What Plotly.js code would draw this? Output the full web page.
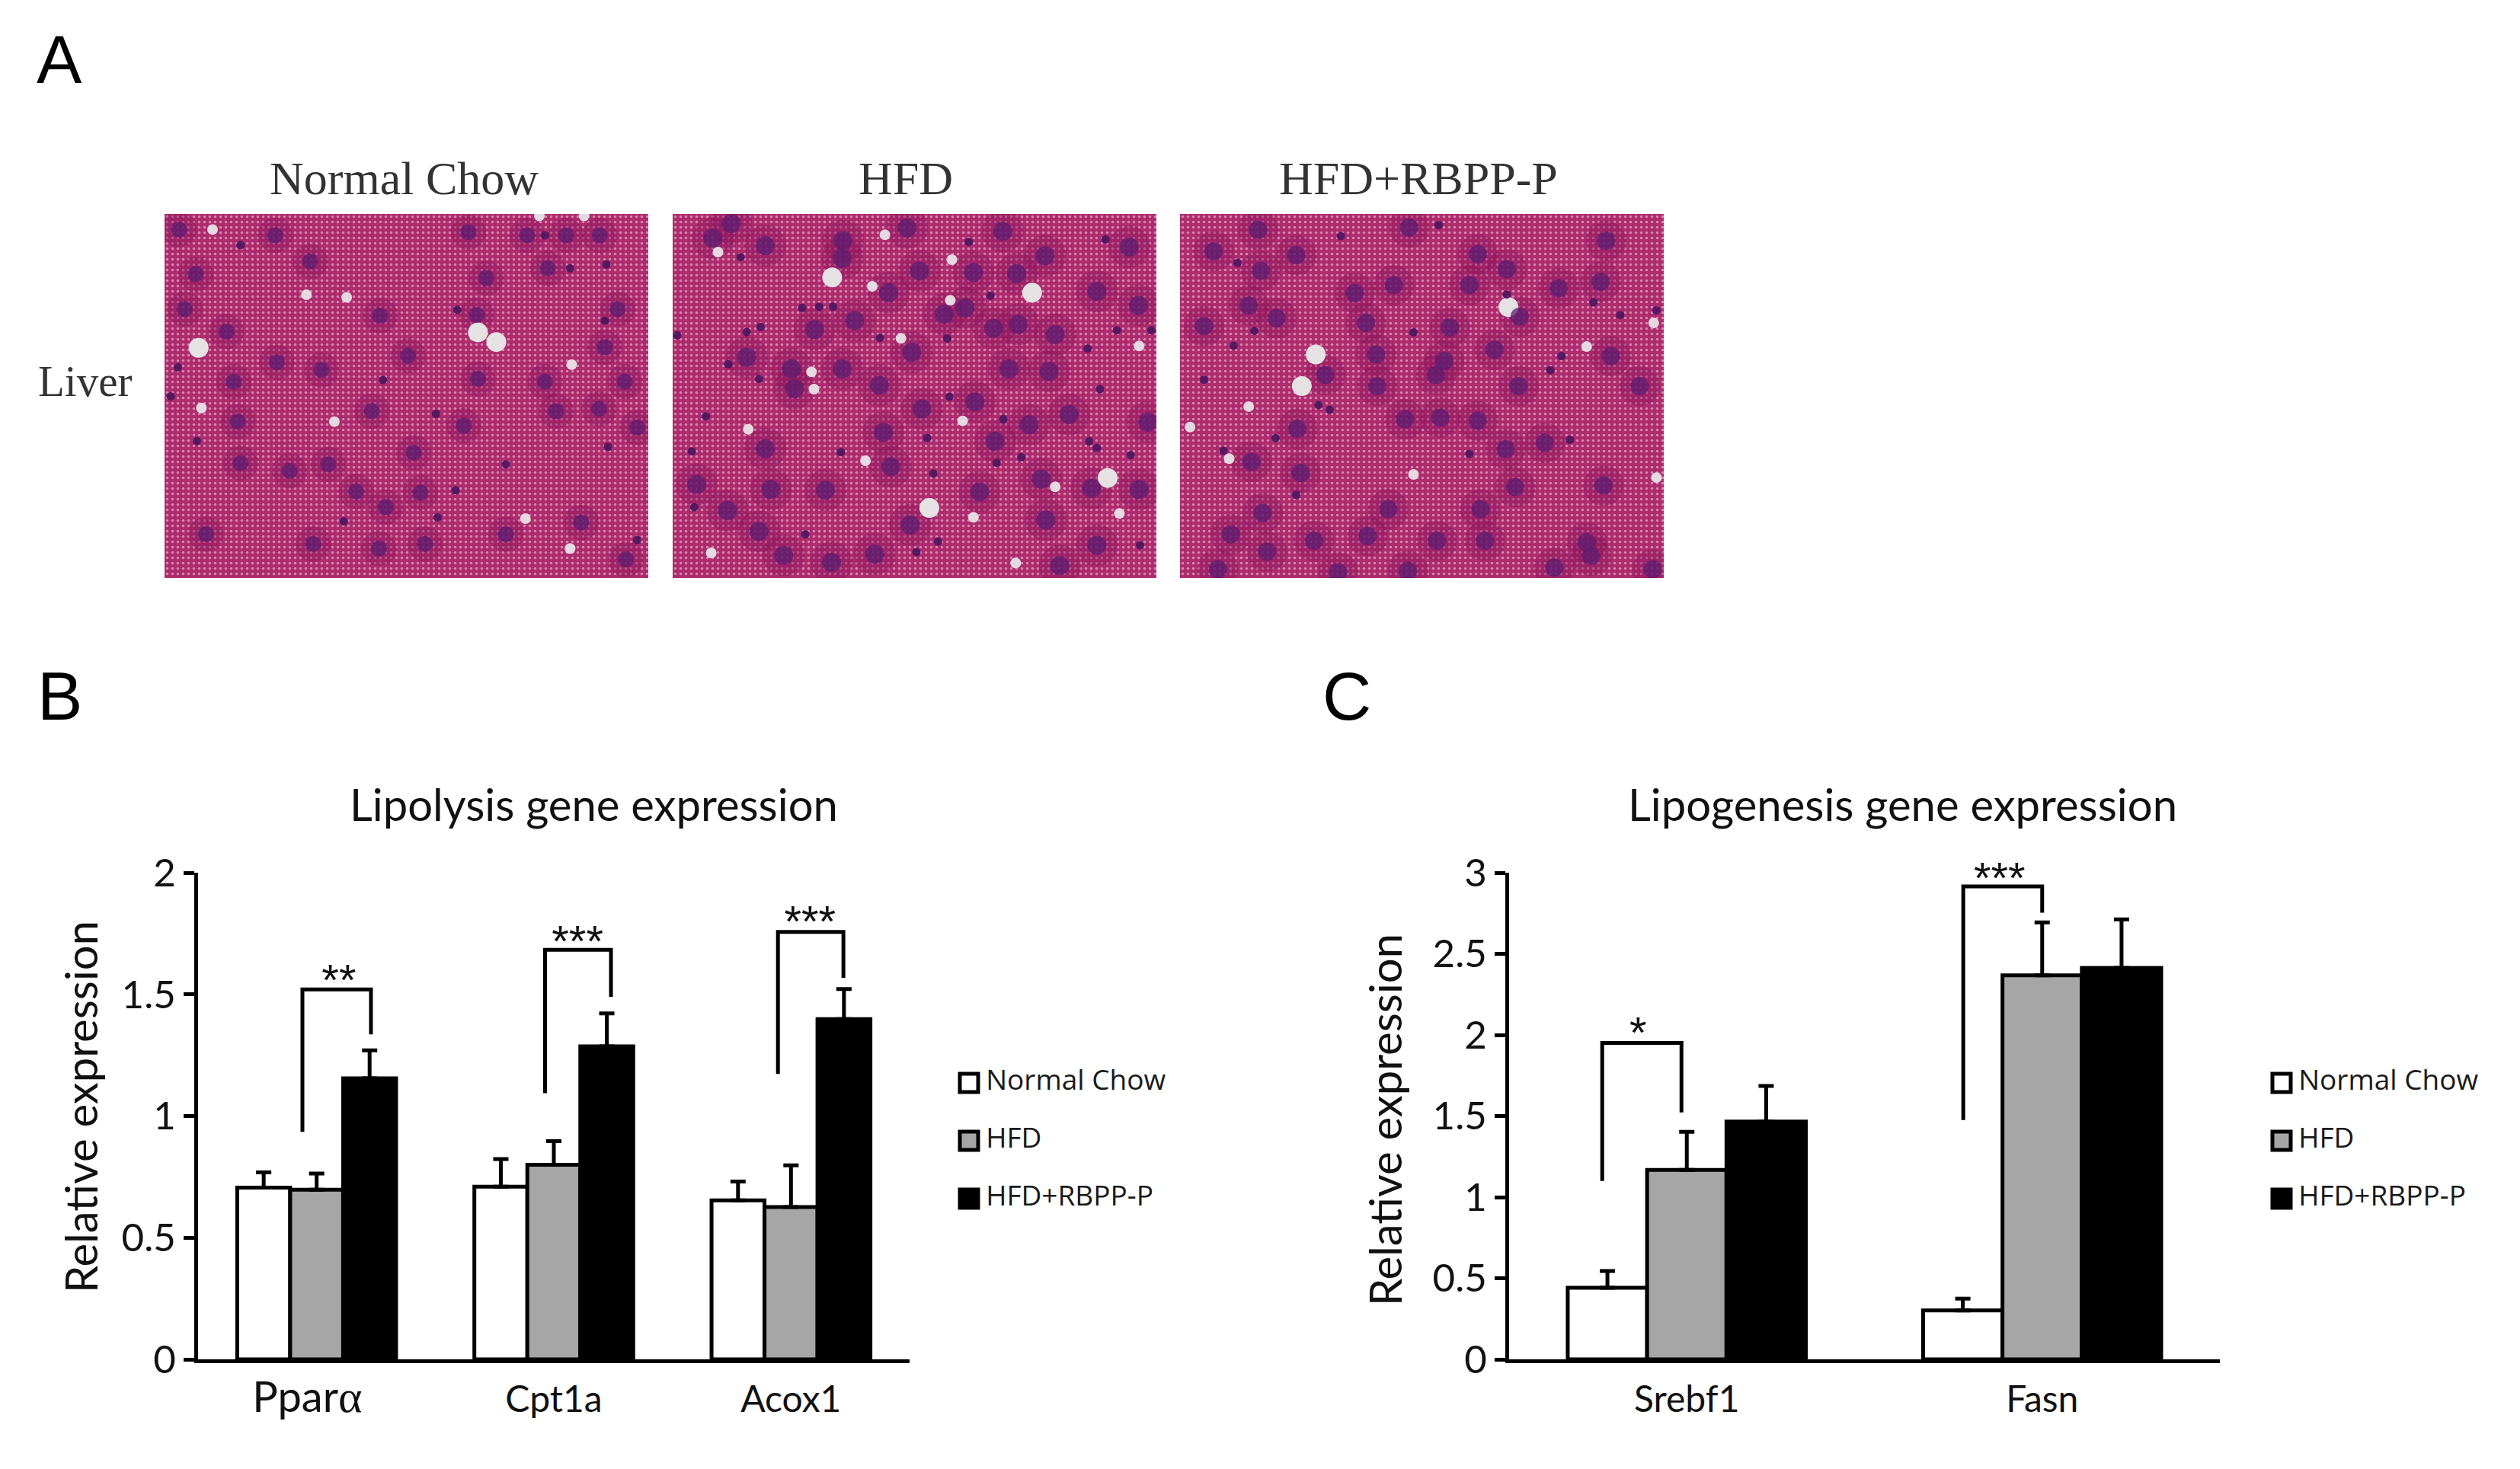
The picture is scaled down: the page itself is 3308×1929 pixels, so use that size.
<!DOCTYPE html>
<html>
<head>
<meta charset="utf-8">
<script src="https://cdn.plot.ly/plotly-3.0.1.min.js"></script>
<style>html, body { margin: 0; padding: 0; background: white; }</style>
</head>
<body>
<div id="chart"></div>
<script>
var groups = ["Normal Chow", "HFD", "HFD+RBPP-P"];
var groupFill = ["#ffffff", "#a6a6a6", "#000000"];

// panel B
var lipolysisGenes = ['<span style="font-size:56px">Ppar</span><span style="font-family:Liberation Serif;font-size:60px">α</span>\u00a0\u00a0', "Cpt1a", "Acox1"];
var lipolysisNormal = [0.706, 0.71, 0.653];
var lipolysisHFD = [0.697, 0.80, 0.626];
var lipolysisRBPP = [1.155, 1.286, 1.398];
var lipolysisNormalErr = [0.062, 0.113, 0.078];
var lipolysisHFDErr = [0.067, 0.097, 0.171];
var lipolysisRBPPErr = [0.115, 0.136, 0.124];
var lipolysisBracketX = [-0.06, -0.06, 0.229, 0.229, null, 0.963, 0.963, 1.241, 1.241, null, 1.945, 1.945, 2.221, 2.221];
var lipolysisBracketY = [0.935, 1.52, 1.52, 1.336, null, 1.094, 1.683, 1.683, 1.49, null, 1.173, 1.757, 1.757, 1.568];
var lipolysisStarX = [0.094, 1.10, 2.08];
var lipolysisStarY = [1.543, 1.702, 1.782];
var lipolysisStars = ["**", "***", "***"];

// panel C
var lipogenesisGenes = ["Srebf1", "Fasn"];
var lipogenesisNormal = [0.441, 0.302];
var lipogenesisHFD = [1.168, 2.367];
var lipogenesisRBPP = [1.466, 2.413];
var lipogenesisNormalErr = [0.104, 0.072];
var lipogenesisHFDErr = [0.235, 0.327];
var lipogenesisRBPPErr = [0.219, 0.30];
var lipogenesisBracketX = [-0.238, -0.238, -0.015, -0.015, null, 0.778, 0.778, 1.0, 1.0];
var lipogenesisBracketY = [1.10, 1.951, 1.951, 1.522, null, 1.475, 2.916, 2.916, 2.753];
var lipogenesisStarX = [-0.137, 0.88];
var lipogenesisStarY = [1.99, 2.94];
var lipogenesisStars = ["*", "***"];

// panel A, features
var chowNucleiX = [320,492,838,943,1013,1073,555,350,870,980,330,680,853,1105,405,495,575,730,418,855,975,1118,665,995,1072,425,830,1140,430,518,587,740,637,752,690,905,560,678,760,1120,368,1040,1082];
var chowNucleiY = [590,605,597,605,605,605,672,705,715,690,795,812,810,795,853,932,952,915,982,975,982,982,1058,1058,1052,1085,1095,1100,1192,1212,1195,1165,1265,1268,1305,1375,1400,1412,1400,1440,1375,1345,893];
var chowDotsX = [430,975,1020,1085,818,1082,685,305,780,352,905,815,783,1140,318,615,1088];
var chowDotsY = [630,605,690,680,797,825,978,1020,1065,1135,1195,1262,1332,1390,945,1342,1150];
var chowHolesX = [360,548,620,1023,965,1045,380,1020,598,940];
var chowHolesY = [1050,758,765,938,555,555,590,1412,1085,1335];
var chowBigHolesX = [355,855,888];
var chowBigHolesY = [895,855,880];

var hfdNucleiX = [190,130,300,552,550,760,1070,1480,1207,975,1115,800,700,1375,1510,948,880,460,1040,1120,1240,590,775,550,385,395,670,1090,1220,980,808,1285,1155,1540,683,1045,300,707,1195,78,318,495,995,1358,1512,178,1210,770,280,360,515,655,1255,1375,240];
var hfdNucleiY = [38,95,125,105,175,55,68,130,165,230,235,225,310,305,360,370,395,455,450,435,475,420,545,610,610,688,675,610,620,740,768,790,830,820,860,895,925,995,1045,1065,1085,1088,1095,1080,1085,1168,1205,1225,1250,1345,1372,1340,1385,1305,565];
var hfdDotsX = [960,1403,220,240,285,420,475,520,672,15,180,280,108,897,1385,825,62,545,1072,1130,1050,1350,1375,1485,845,70,430,790,860,1515,1345,890,1440,1552,1030];
var hfdDotsY = [110,100,170,465,445,370,365,365,488,478,592,650,797,720,690,882,935,938,808,958,980,895,922,950,1022,1155,1262,1332,1290,1305,530,490,458,458,322];
var hfdHolesX = [147,647,740,450,458,1512,245,625,975,1448,688,905,900,940,125,1112,1240];
var hfdHolesY = [150,285,490,622,690,520,848,972,1195,1180,82,180,340,815,1335,1375,1075];
var hfdBigHolesX = [517,1165,1410,832];
var hfdBigHolesY = [250,310,1040,1158];

var rbppNucleiX = [752,672,820,757,1022,1145,1375,1130,995,1197,1290,1365,925,735,1220,785,945,1095,1175,963,1383,1085,1070,872,965,1218,1435,1145,822,1015,1078,1195,1265,740,828,1212,1370,985,760,703,852,948,1072,1158,1340,1348,768,680,1020,1282,1458,895,1150,655];
var rbppNucleiY = [365,433,445,495,358,442,400,540,540,490,550,530,565,605,640,645,660,675,745,760,765,780,825,825,860,860,860,970,995,965,960,1060,1040,1100,1135,1180,1175,1250,1262,1330,1350,1335,1350,1350,1355,1398,1385,1440,1445,1435,1440,1450,1250,670];
var rbppDotsX = [715,900,1075,745,708,655,1030,1295,1400,1465,860,880,783,1310,1130,820,1275,690,1197,1352];
var rbppDotsY = [470,385,350,685,732,840,690,765,635,620,920,935,1025,1030,1075,1205,810,1065,570,595];
var rbppHolesX = [1340,735,700,1030,1465,630,1460];
var rbppHolesY = [735,925,1090,1140,1150,990,660];
var rbppBigHolesX = [855,830,1200];
var rbppBigHolesY = [760,860,610];

var W = 3308, H = 1929;
var sans = "Lato, sans-serif";
var serif = "'Liberation Serif', serif";

function domX(a, b) { return [a / W, b / W]; }
function domY(top, bottom) { return [1 - bottom / H, 1 - top / H]; }

function barTrace(i, xa, ya, vals, errs) {
    return {
        type: "bar", name: groups[i], x: vals.map(function (v, k) { return k; }), y: vals, xaxis: xa, yaxis: ya,
        marker: {color: groupFill[i], line: {color: "#000", width: 5}},
        error_y: {type: "data", symmetric: false, array: errs, arrayminus: vals.map(function () { return 0; }),
            color: "#000", thickness: 5, width: 10},
        hoverinfo: "y"
    };
}
function bracketTrace(xa, ya, x, y) {
    return {type: "scatter", mode: "lines", x: x, y: y, xaxis: xa, yaxis: ya, connectgaps: false,
        line: {color: "#000", width: 5}, hoverinfo: "skip", cliponaxis: false};
}
function starTrace(xa, ya, x, y, text) {
    return {type: "scatter", mode: "text", x: x, y: y, text: text, xaxis: xa, yaxis: ya, cliponaxis: false,
        textposition: "middle center", textfont: {family: "'Liberation Sans', sans-serif", size: 58, color: "#111"}, hoverinfo: "skip"};
}
function legendTrace(xa, ya) {
    return {type: "scatter", mode: "markers+text", x: [0, 0, 0], y: [0, 1, 2],
        text: groups.map(function (g) { return "\u2009" + g; }), xaxis: xa, yaxis: ya,
        cliponaxis: false, textposition: "middle right",
        textfont: {family: "'Open Sans', sans-serif", size: 37, color: "#1a1a1a"},
        marker: {symbol: "square", size: 24, color: groupFill, line: {color: "#000", width: 5}}, hoverinfo: "skip"};
}
function spots(xa, ya, x, y, size, color) {
    return {type: "scatter", mode: "markers", x: x, y: y, xaxis: xa, yaxis: ya, hoverinfo: "skip",
        marker: {size: size, color: color}};
}
function photoTraces(xa, ya, range, nx, ny, dx, dy, hx, hy, bx, by, nucleusSize) {
    return [
        {type: "bar", x: [(range[0] + range[1]) / 2], y: [range[3] - range[2]], base: [range[2]], width: [range[1] - range[0]],
            xaxis: xa, yaxis: ya, hoverinfo: "skip",
            marker: {color: "#ad2c6e", line: {width: 0}, pattern: {shape: ".", size: 7, solidity: 0.2, fgcolor: "#d884ae", bgcolor: "#ad2c6e"}}},
        // darker cytoplasm round each nucleus
        spots(xa, ya, nx, ny, nucleusSize * 2.2, "rgba(140,20,92,0.4)"),
        spots(xa, ya, hx, hy, 14, "#e6d9e2"),
        spots(xa, ya, bx, by, 26, "#e6e2e4"),
        spots(xa, ya, nx, ny, nucleusSize, "rgba(92,28,112,0.75)"),
        spots(xa, ya, dx, dy, 11, "rgba(74,21,96,0.9)")
    ];
}

var chowRange = [294, 1160, 550, 1488];
var hfdRange = [0, 1568, 0, 1434];
var rbppRange = [612, 1478, 315, 1468];

var data = [].concat(
    photoTraces("x3", "y3", chowRange, chowNucleiX, chowNucleiY, chowDotsX, chowDotsY, chowHolesX, chowHolesY, chowBigHolesX, chowBigHolesY, 21),
    photoTraces("x4", "y4", hfdRange, hfdNucleiX, hfdNucleiY, hfdDotsX, hfdDotsY, hfdHolesX, hfdHolesY, hfdBigHolesX, hfdBigHolesY, 25),
    photoTraces("x5", "y5", rbppRange, rbppNucleiX, rbppNucleiY, rbppDotsX, rbppDotsY, rbppHolesX, rbppHolesY, rbppBigHolesX, rbppBigHolesY, 24),
    [
        barTrace(0, "x", "y", lipolysisNormal, lipolysisNormalErr),
        barTrace(1, "x", "y", lipolysisHFD, lipolysisHFDErr),
        barTrace(2, "x", "y", lipolysisRBPP, lipolysisRBPPErr),
        bracketTrace("x", "y", lipolysisBracketX, lipolysisBracketY),
        starTrace("x", "y", lipolysisStarX, lipolysisStarY, lipolysisStars),
        barTrace(0, "x2", "y2", lipogenesisNormal, lipogenesisNormalErr),
        barTrace(1, "x2", "y2", lipogenesisHFD, lipogenesisHFDErr),
        barTrace(2, "x2", "y2", lipogenesisRBPP, lipogenesisRBPPErr),
        bracketTrace("x2", "y2", lipogenesisBracketX, lipogenesisBracketY),
        starTrace("x2", "y8", lipogenesisStarX, lipogenesisStarY, lipogenesisStars),
        legendTrace("x6", "y6"),
        legendTrace("x7", "y7")
    ]
);

function hiddenAxis(domain, range, anchor) {
    return {domain: domain, range: range, anchor: anchor, visible: false, fixedrange: true};
}
function catAxis(domain, anchor, labels) {
    return {domain: domain, anchor: anchor, range: [-0.5, labels.length - 0.5], fixedrange: true,
        tickmode: "array", tickvals: labels.map(function (v, k) { return k; }), ticktext: labels,
        showline: true, linecolor: "#000", linewidth: 5, ticks: "", showgrid: false, zeroline: false,
        tickfont: {family: sans, size: 48, color: "#111"}, ticklabelstandoff: 6};
}
function valueAxis(domain, anchor, top) {
    return {domain: domain, anchor: anchor, range: [0, top], dtick: 0.5, fixedrange: true,
        showline: true, linecolor: "#000", linewidth: 5, ticks: "outside", ticklen: 14, tickwidth: 5, tickcolor: "#000",
        showgrid: false, zeroline: false, tickfont: {family: sans, size: 51, color: "#111"}};
}
function label(text, x, y, family, size, color, angle) {
    return {text: text, x: x / W, y: 1 - y / H, xref: "paper", yref: "paper", showarrow: false,
        xanchor: "center", yanchor: "middle", textangle: angle || 0, font: {family: family, size: size, color: color}};
}

var layout = {
    width: W, height: H, showlegend: false,
    margin: {l: 0, r: 0, t: 0, b: 0},
    paper_bgcolor: "white", plot_bgcolor: "rgba(0,0,0,0)",
    barmode: "group", bargap: 0.33, bargroupgap: 0,
    xaxis: catAxis(domX(260, 1194), "y", lipolysisGenes),
    yaxis: valueAxis(domY(1146, 1785), "x", 2),
    xaxis2: catAxis(domX(1981, 2914), "y2", lipogenesisGenes),
    yaxis2: valueAxis(domY(1146, 1785), "x2", 3),
    xaxis3: hiddenAxis(domX(216, 851), chowRange.slice(0, 2), "y3"),
    yaxis3: hiddenAxis(domY(281, 759), [chowRange[3], chowRange[2]], "x3"),
    xaxis4: hiddenAxis(domX(883, 1518), hfdRange.slice(0, 2), "y4"),
    yaxis4: hiddenAxis(domY(281, 759), [hfdRange[3], hfdRange[2]], "x4"),
    xaxis5: hiddenAxis(domX(1549, 2184), rbppRange.slice(0, 2), "y5"),
    yaxis5: hiddenAxis(domY(281, 759), [rbppRange[3], rbppRange[2]], "x5"),
    xaxis6: hiddenAxis(domX(1272, 1600), [0, 1], "y6"),
    yaxis6: hiddenAxis(domY(1384, 1612), [2.5, -0.5], "x6"),
    xaxis7: hiddenAxis(domX(2995, 3300), [0, 1], "y7"),
    yaxis7: hiddenAxis(domY(1384, 1612), [2.5, -0.5], "x7"),
    // same scale as yaxis2 with headroom, the *** over Fasn sits above 3
    yaxis8: hiddenAxis(domY(1103.4, 1785), [0, 3.2], "x2"),
    annotations: [
        label("A", 78, 78, "'Liberation Sans', sans-serif", 89, "#000"),
        label("B", 78, 914, "'Liberation Sans', sans-serif", 89, "#000"),
        label("C", 1768, 914, "'Liberation Sans', sans-serif", 89, "#000"),
        label("Normal Chow", 530, 234, serif, 62, "#333"),
        label("HFD", 1189, 234, serif, 62, "#333"),
        label("HFD+RBPP-P", 1862, 234, serif, 62, "#333"),
        label("Liver", 111, 500, serif, 57, "#333"),
        label("Lipolysis gene expression", 779, 1055, sans, 58, "#111"),
        label("Lipogenesis gene expression", 2497, 1055, sans, 58, "#111"),
        label("Relative expression", 105, 1454, sans, 58, "#111", -90),
        label("Relative expression", 1817, 1471, sans, 58, "#111", -90)
    ]
};

Plotly.newPlot("chart", data, layout, {displayModeBar: false, staticPlot: true});
</script>
</body>
</html>
